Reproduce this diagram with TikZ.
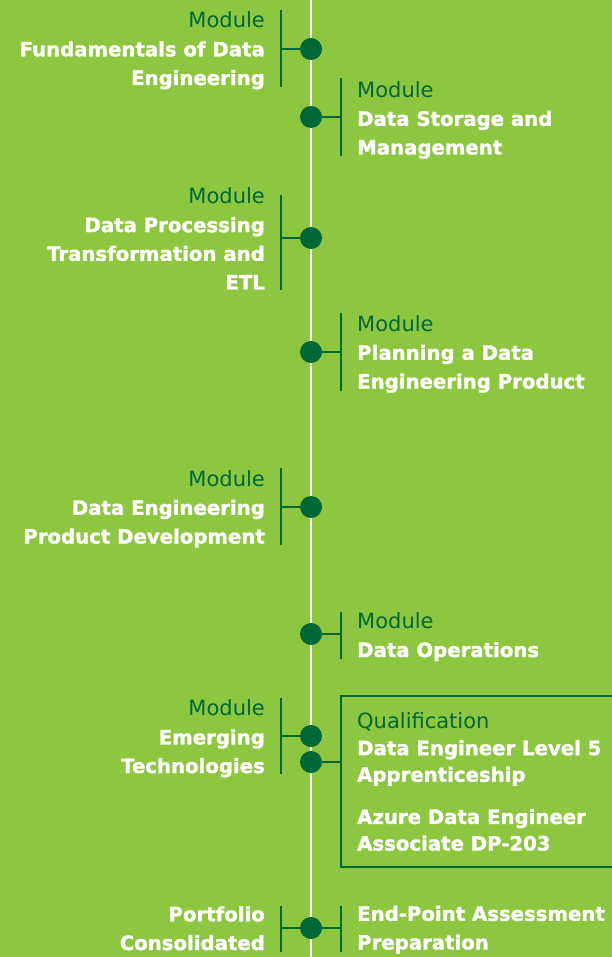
\documentclass[tikz,border=0pt]{standalone}
\usepackage{fontspec}
\setmainfont{DejaVu Sans}[BoldFeatures={FakeBold=1.5}]
\definecolor{leaf}{RGB}{141,198,63}
\definecolor{pine}{RGB}{0,104,55}
\newcommand\tagline[1]{{\fontsize{21}{28.7}\selectfont\mdseries\color{pine}#1}}
\begin{document}
\begin{tikzpicture}[x=1pt,y=-1pt,
  dot/.style={circle,fill=pine,inner sep=0pt,minimum size=22pt},
  bar/.style={draw=pine,line width=2.7pt},
  lab/.style={font=\fontsize{19.7}{28.7}\selectfont\bfseries,text=white,inner sep=0pt},
  qlab/.style={font=\fontsize{19.7}{26.6}\selectfont\bfseries,text=white,inner sep=0pt},
  lefttxt/.style={lab,anchor=base east,align=right},
  righttxt/.style={lab,anchor=base west,align=left},
]
% page
\fill[leaf] (0,0) rectangle (612,957);
\useasboundingbox (0,0) rectangle (612,957);
\clip (0,0) rectangle (612,957);

% spine
\coordinate (top) at (311,0);
\coordinate (bottom) at (311,957);
\draw[white,line width=2pt] (top) -- (bottom);

% labels are anchored at the baseline of their last line

% 1: Fundamentals
\coordinate (b1a) at (281,10); \coordinate (b1b) at (281,87); \coordinate (k1) at (281,49);
\draw[bar] (b1a) -- (b1b);
\node[dot] (d1) at (311,49) {};
\draw[bar] (k1) -- (d1);
\node[lefttxt] (t1) at (265,85) {\tagline{Module}\\Fundamentals of Data\\Engineering};

% 2: Storage
\coordinate (b2a) at (341,78); \coordinate (b2b) at (341,156); \coordinate (k2) at (341,117);
\draw[bar] (b2a) -- (b2b);
\node[dot] (d2) at (311,117) {};
\draw[bar] (d2) -- (k2);
\node[righttxt] (t2) at (357,154.5) {\tagline{Module}\\Data Storage and\\Management};

% 3: Processing
\coordinate (b3a) at (281,195); \coordinate (b3b) at (281,290); \coordinate (k3) at (281,238);
\draw[bar] (b3a) -- (b3b);
\node[dot] (d3) at (311,238) {};
\draw[bar] (k3) -- (d3);
\node[lefttxt] (t3) at (265,289.5) {\tagline{Module}\\Data Processing\\Transformation and\\ETL};

% 4: Planning
\coordinate (b4a) at (341,313); \coordinate (b4b) at (341,391); \coordinate (k4) at (341,352);
\draw[bar] (b4a) -- (b4b);
\node[dot] (d4) at (311,352) {};
\draw[bar] (d4) -- (k4);
\node[righttxt] (t4) at (357,388.5) {\tagline{Module}\\Planning a Data\\Engineering Product};

% 5: Product development
\coordinate (b5a) at (281,468); \coordinate (b5b) at (281,545); \coordinate (k5) at (281,507);
\draw[bar] (b5a) -- (b5b);
\node[dot] (d5) at (311,507) {};
\draw[bar] (k5) -- (d5);
\node[lefttxt] (t5) at (265,543.5) {\tagline{Module}\\Data Engineering\\Product Development};

% 6: Operations
\coordinate (b6a) at (341,612); \coordinate (b6b) at (341,659); \coordinate (k6) at (341,634);
\draw[bar] (b6a) -- (b6b);
\node[dot] (d6) at (311,634) {};
\draw[bar] (d6) -- (k6);
\node[righttxt] (t6) at (357,657) {\tagline{Module}\\Data Operations};

% 7: Emerging technologies
\coordinate (b7a) at (281,698); \coordinate (b7b) at (281,774); \coordinate (k7) at (281,736);
\draw[bar] (b7a) -- (b7b);
\node[dot] (d7) at (311,736) {};
\draw[bar] (k7) -- (d7);
\node[lefttxt] (t7) at (265,773) {\tagline{Module}\\Emerging\\Technologies};

% qualification box
\coordinate (qa) at (341,696); \coordinate (qb) at (625,867); \coordinate (kq) at (341,762);
\draw[bar] (qa) rectangle (qb);
\node[dot] (dq) at (311,762) {};
\draw[bar] (dq) -- (kq);
\node[qlab,anchor=base west,align=left] (tq) at (357,781.7) {\tagline{Qualification}\\Data Engineer Level 5\\Apprenticeship};
\node[qlab,anchor=base west,align=left] (tq2) at (357,850.5) {Azure Data Engineer\\Associate DP-203};

% 8: Portfolio / EPA
\coordinate (b8a) at (281,906); \coordinate (b8b) at (281,952); \coordinate (k8) at (281,928);
\coordinate (c8a) at (341,906); \coordinate (c8b) at (341,952); \coordinate (m8) at (341,928);
\draw[bar] (b8a) -- (b8b);
\draw[bar] (c8a) -- (c8b);
\node[dot] (d8) at (311,928) {};
\draw[bar] (k8) -- (d8) -- (m8);
\node[lefttxt] (t8) at (265,950) {Portfolio\\Consolidated};
\node[righttxt] (t9) at (357,949.5) {End-Point Assessment\\Preparation};
\end{tikzpicture}
\end{document}
